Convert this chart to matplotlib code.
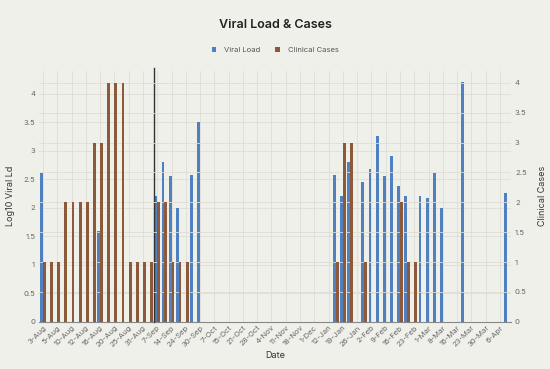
import numpy as np
import matplotlib.pyplot as plt

plt.rcParams['font.family'] = ['Inter', 'DejaVu Sans']

# one entry per category slot; the axis labels only every second one
dates = ["3-Aug", "4-Aug", "5-Aug", "8-Aug", "10-Aug", "11-Aug", "12-Aug", "14-Aug",
         "16-Aug", "18-Aug", "20-Aug", "23-Aug", "25-Aug", "28-Aug", "31-Aug", "3-Sep",
         "7-Sep", "10-Sep", "14-Sep", "21-Sep", "24-Sep", "28-Sep", "30-Sep", "5-Oct",
         "7-Oct", "12-Oct", "15-Oct", "19-Oct", "21-Oct", "26-Oct", "28-Oct", "2-Nov",
         "4-Nov", "9-Nov", "11-Nov", "16-Nov", "18-Nov", "25-Nov", "1-Dec", "5-Jan",
         "12-Jan", "16-Jan", "19-Jan", "23-Jan", "26-Jan", "30-Jan", "2-Feb", "6-Feb",
         "9-Feb", "13-Feb", "16-Feb", "20-Feb", "23-Feb", "27-Feb", "1-Mar", "5-Mar",
         "8-Mar", "12-Mar", "16-Mar", "19-Mar", "23-Mar", "26-Mar", "30-Mar", "2-Apr",
         "6-Apr", "9-Apr"]

nan = np.nan
viral_load = [2.6, nan, nan, nan, nan, nan, nan, nan, 1.6, nan,
              nan, nan, nan, nan, nan, nan, 2.2, 2.8, 2.55, 2.0,
              nan, 2.57, 3.5, nan, nan, nan, nan, nan, nan, nan,
              nan, nan, nan, nan, nan, nan, nan, nan, nan, nan,
              nan, 2.58, 2.2, 2.8, nan, 2.45, 2.68, 3.25, 2.55, 2.9,
              2.38, 2.2, nan, 2.2, 2.17, 2.6, 2.0, nan, nan, 4.2,
              nan, nan, nan, nan, nan, 2.25]
clinical_cases = [1, 1, 1, 2, 2, 2, 2, 3, 3, 4,
                  4, 4, 1, 1, 1, 1, 2, 2, 1, 1,
                  1, nan, nan, nan, nan, nan, nan, nan, nan, nan,
                  nan, nan, nan, nan, nan, nan, nan, nan, nan, nan,
                  nan, 1, 3, 3, nan, 1, nan, nan, nan, nan,
                  2, 1, 1, nan, nan, nan, nan, nan, nan, nan,
                  nan, nan, nan, nan, nan, nan]
marker_date = "7-Sep"

bg = "#f0f0eb"
grid_c = "#dddcd5"
blue = "#4f80c2"
brown = "#8c5a3a"

x = np.arange(len(dates))
fig = plt.figure(figsize=(5.5, 3.69), dpi=100, facecolor=bg)
ax = fig.add_axes([0.0716, 0.128, 0.857, 0.680], facecolor=bg)
ax2 = ax.twinx()

w = 0.4
ax.bar(x - w / 2, viral_load, width=w, color=blue, label="Viral Load", zorder=3)
ax2.bar(x + w / 2, clinical_cases, width=w, color=brown, label="Clinical Cases", zorder=3)

ax.set_xlim(-0.5, len(dates) - 0.5)
ax.set_ylim(0, 4.4)
ax2.set_ylim(0, 4.2)
ticks = np.arange(0, 4.01, 0.5)
ax.set_yticks(ticks)
ax2.set_yticks(ticks)
ax.set_yticklabels([f"{t:g}" for t in ticks])
ax2.set_yticklabels([f"{t:g}" for t in ticks])
ax.set_xticks(x[::2])
ax.set_xticklabels(dates[::2], rotation=45, ha="right", rotation_mode="anchor")

ax.grid(True, color=grid_c, lw=0.6, zorder=0)
ax2.grid(True, axis="y", color=grid_c, lw=0.6, zorder=0)
ax.set_axisbelow(True)
ax2.set_axisbelow(True)

for a in (ax, ax2):
    for s in a.spines.values():
        s.set_visible(False)
    a.tick_params(length=0, labelsize=5.5, colors="#666666", pad=3)
ax.spines["bottom"].set_visible(True)
ax.spines["bottom"].set_color("#888888")
ax.spines["bottom"].set_linewidth(0.8)
ax.tick_params(axis="x", pad=2)

ax.axvline(dates.index(marker_date) - 0.5, ymax=1.01, color="#333333", lw=1.0, zorder=4, clip_on=False)

ax.set_ylabel("Log10 Viral Ld", fontsize=6.5, color="#333333", labelpad=6)
ax2.set_ylabel("Clinical Cases", fontsize=6.5, color="#333333", labelpad=8)
ax.set_xlabel("Date", fontsize=6.5, color="#333333", labelpad=2)

fig.text(0.5, 0.932, "Viral Load & Cases", ha="center", va="center",
         fontsize=9, color="#222222", fontweight="semibold")
h1, l1 = ax.get_legend_handles_labels()
h2, l2 = ax2.get_legend_handles_labels()
fig.legend(h1 + h2, l1 + l2, loc="center", bbox_to_anchor=(0.5, 0.865), ncol=2,
           frameon=False, fontsize=5.5, handlelength=0.6, handleheight=0.6,
           columnspacing=2.0, handletextpad=1.0, labelcolor="#555555")

plt.savefig("out.png", dpi=100, facecolor=bg)
